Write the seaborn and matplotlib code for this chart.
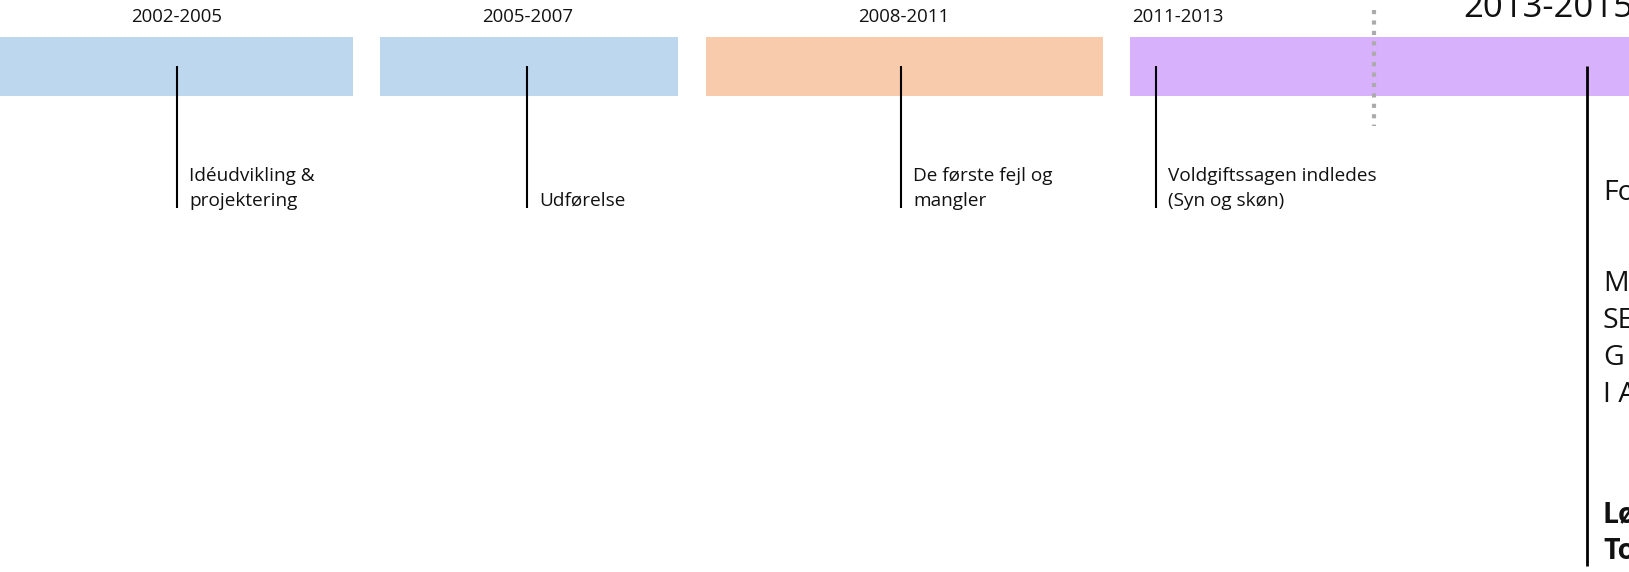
import matplotlib
matplotlib.use("Agg")
import matplotlib.pyplot as plt
import seaborn as sns

# ---- data ----
phase_labels = ["2002-2005", "2005-2007", "2008-2011", "2011-2015"]
phase_start = [0, 380, 706, 1130]
phase_end = [353, 678, 1103, 1700]
phase_colors = ["#BDD7EE", "#BDD7EE", "#F8CBAD", "#D7B1FC"]

period_labels = ["2002-2005", "2005-2007", "2008-2011", "2011-2013"]
period_x = [177, 528, 904, 1132]
period_ha = ["center", "center", "center", "left"]

big_period_label = "2013-2015"
big_period_x = 1463
divider_x = 1374

event_x = [177, 527, 901, 1156]
event_texts = ["Idéudvikling &\nprojektering", "Udførelse",
               "De første fejl og\nmangler", "Voldgiftssagen indledes\n(Syn og skøn)"]

final_event_x = 1587
final_lines = ["Fo", "M", "SE", "G", "I A", "Lø", "To"]
final_bold = [False, False, False, False, False, True, True]
final_baselines = [200, 291, 328, 365, 402, 522, 559]

W, H = 1629, 572
sns.set_theme(style="white")
plt.rcParams["font.family"] = ["Open Sans", "DejaVu Sans"]

fig = plt.figure(figsize=(W / 100, H / 100), dpi=100)
ax = fig.add_axes([0, 0, 1, 1])
ax.set_xlim(0, W)
ax.set_ylim(H, 0)
ax.axis("off")

# phase bars
for s, e, c in zip(phase_start, phase_end, phase_colors):
    ax.barh(66.5, e - s, left=s, height=59, color=c, edgecolor="none",
            linewidth=0, zorder=1)

# divider
ax.vlines(divider_x, 10, 126, color="#ABABAB", lw=3.0,
          linestyles=(0, (1.0, 1.5)), zorder=2)

# period labels
for lab, x, ha in zip(period_labels, period_x, period_ha):
    ax.text(x, 22, lab, ha=ha, va="baseline", fontsize=13.4, color="#111111")
ax.text(big_period_x, 17, big_period_label, ha="left", va="baseline",
        fontsize=25, color="#111111", clip_on=True)

# event markers
for x, txt in zip(event_x, event_texts):
    ax.vlines(x, 66, 208, color="black", lw=1.5, zorder=3)
    lines = txt.split("\n")
    n = len(lines)
    for i, ln in enumerate(lines):
        y = 206 - (n - 1 - i) * 25
        ax.text(x + 12, y, ln, ha="left", va="baseline", fontsize=13.7,
                color="#111111")

# final event
ax.vlines(final_event_x, 66, 566, color="black", lw=2.0, zorder=3)
for ln, b, y in zip(final_lines, final_bold, final_baselines):
    ax.text(1603, y, ln, ha="left", va="baseline", fontsize=20.5,
            fontweight="bold" if b else "normal", color="#111111", clip_on=True)

fig.savefig("out.png", dpi=100)
